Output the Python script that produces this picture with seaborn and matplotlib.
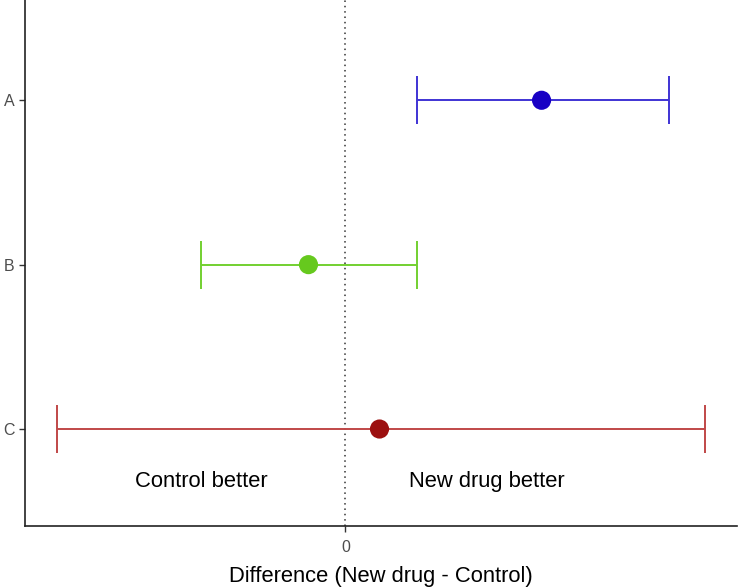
import numpy as np
import matplotlib
matplotlib.use("Agg")
import matplotlib.pyplot as plt
import seaborn as sns
import pandas as pd

# data
groups = ["A", "B", "C"]
estimate = [1.96, -0.37, 0.34]
lower = [0.71, -1.44, -2.88]
upper = [3.23, 0.71, 3.59]

point_colors = ["#1800c4", "#66c91e", "#9c1010"]
line_colors = ["#3f33d4", "#72d030", "#c04848"]

df = pd.DataFrame({"group": groups, "diff": estimate, "lo": lower, "hi": upper})
df["pos"] = np.arange(len(df))

sns.set_theme(style="white")
plt.rcParams["font.family"] = ["Liberation Sans", "DejaVu Sans"]

fig = plt.figure(figsize=(7.38, 5.88), dpi=100)
ax = fig.add_axes([25 / 738, 62 / 588, 712 / 738, 526 / 588])

ax.axvline(0, color="#333333", linestyle=(0, (1, 2.5)), linewidth=1.1, zorder=1)

for i, row in df.iterrows():
    ax.errorbar(row["diff"], row["pos"],
                xerr=[[row["diff"] - row["lo"]], [row["hi"] - row["diff"]]],
                fmt="none", ecolor=line_colors[i], elinewidth=1.4,
                capsize=17, capthick=1.4, zorder=2)

sns.scatterplot(data=df, x="diff", y="pos", hue="group",
                palette=point_colors, s=190, edgecolor="none",
                legend=False, ax=ax, zorder=3)

ax.text(-1.44, 2.32, "Control better", ha="center", va="center",
        fontsize=15.8, color="black")
ax.text(1.41, 2.32, "New drug better", ha="center", va="center",
        fontsize=15.8, color="black")

span = max(upper) - min(lower)
ax.set_xlim(min(lower) - 0.05 * span, max(upper) + 0.05 * span)
ax.set_ylim(2.59, -0.61)
ax.set_xticks([0])
ax.set_xticklabels(["0"])
ax.set_yticks(df["pos"])
ax.set_yticklabels(groups)

ax.set_xlabel("Difference (New drug - Control)", fontsize=15.8, color="black",
              labelpad=8)
ax.set_ylabel("")

for side in ["top", "right"]:
    ax.spines[side].set_visible(False)
for side in ["left", "bottom"]:
    ax.spines[side].set_color("#222222")
    ax.spines[side].set_linewidth(1.2)

ax.tick_params(axis="both", which="both", length=4, width=1.0,
               color="#333333", labelcolor="#4d4d4d", labelsize=11.5,
               left=True, bottom=True, pad=3.5)
ax.tick_params(axis="x", pad=6)

fig.savefig("out.png", dpi=100)
